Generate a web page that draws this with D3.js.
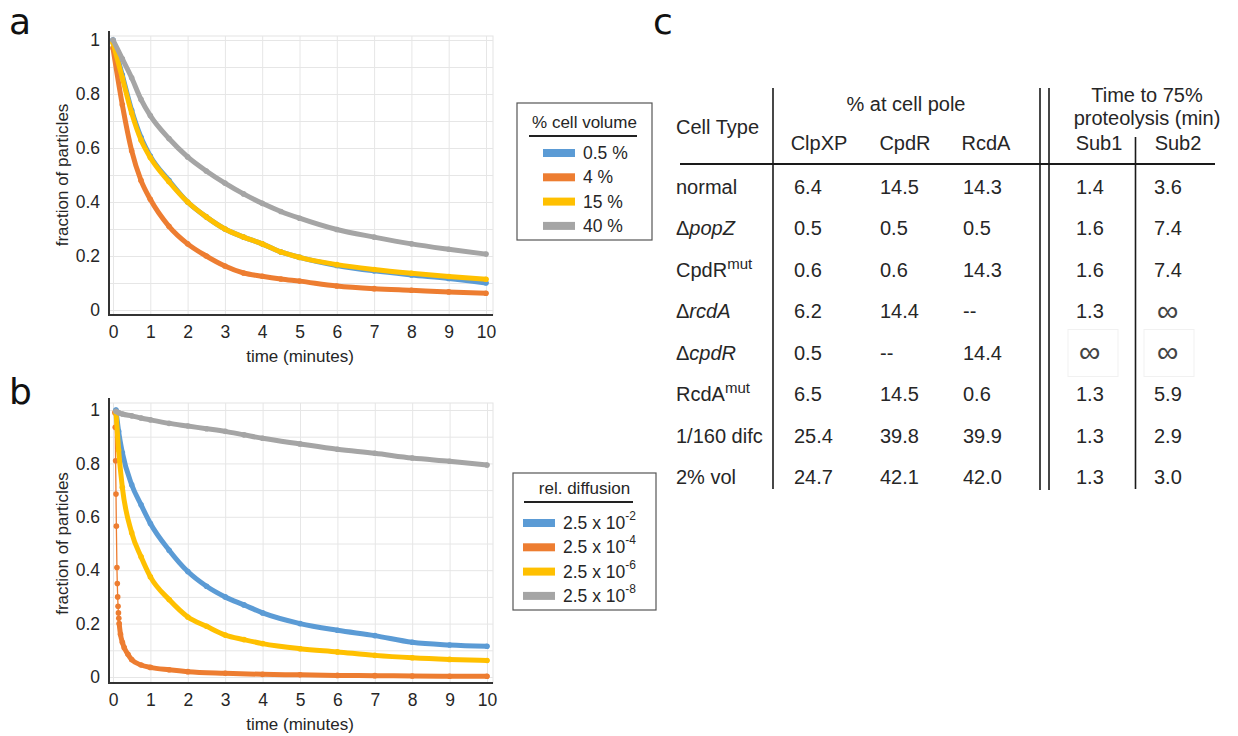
<!DOCTYPE html>
<html>
<head>
<meta charset="utf-8">
<script src="https://cdn.jsdelivr.net/npm/d3@7"></script>
<style>
  body { margin: 0; background: #fff; }
  svg { display: block; font-family: "Liberation Sans", Arial, sans-serif; }
</style>
</head>
<body>
<div class="root"></div>
<script>
const width = 1238;
const height = 736;

// panel a - fraction of particles vs time, by % cell volume
const timeA = [0, 0.25, 0.5, 0.75, 1, 1.5, 2, 2.5, 3, 3.5, 4, 4.5, 5, 6, 7, 8, 9, 10];
const blueA = [1.0, 0.87, 0.74, 0.64, 0.57, 0.48, 0.4, 0.345, 0.3, 0.27, 0.245, 0.215, 0.195, 0.165, 0.145, 0.13, 0.117, 0.1];
const orangeA = [0.97, 0.76, 0.59, 0.48, 0.41, 0.31, 0.245, 0.2, 0.163, 0.137, 0.125, 0.115, 0.107, 0.089, 0.079, 0.073, 0.067, 0.062];
const yellowA = [0.99, 0.86, 0.73, 0.63, 0.565, 0.475, 0.4, 0.345, 0.3, 0.27, 0.245, 0.215, 0.195, 0.168, 0.15, 0.136, 0.124, 0.114];
const grayA = [1.0, 0.93, 0.86, 0.78, 0.72, 0.635, 0.567, 0.515, 0.47, 0.43, 0.395, 0.365, 0.34, 0.298, 0.27, 0.245, 0.225, 0.207];
const volumeLabels = ["0.5 %", "4 %", "15 %", "40 %"];

// panel b - fraction of particles vs time, by relative diffusion
const timeB = [0.08, 0.15, 0.25, 0.5, 0.75, 1, 1.5, 2, 2.5, 3, 3.5, 4, 5, 6, 7, 8, 9, 10];
const blueB = [1.0, 0.92, 0.84, 0.72, 0.645, 0.575, 0.475, 0.395, 0.34, 0.3, 0.27, 0.24, 0.2, 0.175, 0.155, 0.13, 0.12, 0.115];
const yellowB = [0.99, 0.85, 0.71, 0.54, 0.45, 0.375, 0.29, 0.225, 0.19, 0.157, 0.14, 0.125, 0.106, 0.094, 0.081, 0.072, 0.066, 0.062];
const grayB = [0.995, 0.99, 0.985, 0.978, 0.97, 0.963, 0.95, 0.94, 0.93, 0.92, 0.907, 0.894, 0.873, 0.853, 0.838, 0.82, 0.808, 0.794];
const timeBOrange = [0.05, 0.06, 0.07, 0.08, 0.09, 0.105, 0.115, 0.125, 0.135, 0.145, 0.155, 0.165, 0.2, 0.25, 0.3, 0.4, 0.5, 0.75, 1, 1.5, 2, 3, 4, 5, 6, 7, 8, 9, 10];
const orangeB = [0.99, 0.935, 0.81, 0.685, 0.565, 0.41, 0.35, 0.3, 0.265, 0.24, 0.22, 0.2, 0.16, 0.13, 0.11, 0.085, 0.065, 0.045, 0.036, 0.027, 0.02, 0.014, 0.01, 0.008, 0.006, 0.005, 0.004, 0.003, 0.003];
const diffusionBase = "2.5 x 10";
const diffusionExp = ["-2", "-4", "-6", "-8"];

const yTicks = [0, 0.2, 0.4, 0.6, 0.8, 1];
const colors = ["#5b9bd5", "#ed7d31", "#ffc000", "#a5a5a5"];

// panel c - table
const cellTypes = ["normal", "\u0394popZ", "CpdR^mut", "\u0394rcdA", "\u0394cpdR", "RcdA^mut", "1/160 difc", "2% vol"];
const poleHeaders = ["ClpXP", "CpdR", "RcdA"];
const timeHeaders = ["Sub1", "Sub2"];
const clpxp = ["6.4", "0.5", "0.6", "6.2", "0.5", "6.5", "25.4", "24.7"];
const cpdr = ["14.5", "0.5", "0.6", "14.4", "--", "14.5", "39.8", "42.1"];
const rcda = ["14.3", "0.5", "14.3", "--", "14.4", "0.6", "39.9", "42.0"];
const sub1 = ["1.4", "1.6", "1.6", "1.3", "\u221e", "1.3", "1.3", "1.3"];
const sub2 = ["3.6", "7.4", "7.4", "\u221e", "\u221e", "5.9", "2.9", "3.0"];

const ink = "#262626";
const letterFont = "'DejaVu Sans', 'Open Sans', sans-serif";

const svg = d3
  .select(".root")
  .append("svg")
  .attr("width", width)
  .attr("height", height);

svg.append("rect").attr("width", width).attr("height", height).attr("fill", "#fff");

function drawSeries(g, x, y, times, values, color, bandFrom) {
  const pts = times.map((t, i) => ({ t: t, v: values[i] }));
  const line = d3
    .line()
    .x((d) => x(d.t))
    .y((d) => y(d.v))
    .curve(d3.curveMonotoneX);
  g.append("path")
    .datum(pts)
    .attr("d", line)
    .attr("fill", "none")
    .attr("stroke", color)
    .attr("stroke-width", 1.3);
  g.append("path")
    .datum(pts.filter((d) => d.t >= bandFrom))
    .attr("d", line)
    .attr("fill", "none")
    .attr("stroke", color)
    .attr("stroke-width", 5)
    .attr("stroke-linecap", "round")
    .attr("stroke-linejoin", "round");
  g.selectAll(null)
    .data(pts)
    .join("circle")
    .attr("cx", (d) => x(d.t))
    .attr("cy", (d) => y(d.v))
    .attr("r", 2.8)
    .attr("fill", color);
}

function drawPanel(opts) {
  const g = svg.append("g");
  const x = d3.scaleLinear().domain([0, 10]).range(opts.xRange);
  const y = d3.scaleLinear().domain([0, 1]).range(opts.yRange);
  const axisX = 109;
  const right = 493;

  // frame + grid
  g.append("rect")
    .attr("x", axisX)
    .attr("y", opts.frameTop)
    .attr("width", right - axisX)
    .attr("height", opts.axisY - opts.frameTop)
    .attr("fill", "none")
    .attr("stroke", "#e3e3e3");

  g.append("g")
    .attr("transform", `translate(0,${opts.axisY})`)
    .call(d3.axisBottom(x).ticks(10).tickSize(-(opts.axisY - opts.frameTop)).tickFormat(""))
    .call((s) => s.select(".domain").remove())
    .call((s) => s.selectAll("line").attr("stroke", "#e6e6e6"));

  g.append("g")
    .attr("transform", `translate(${axisX},0)`)
    .call(d3.axisLeft(y).ticks(10).tickSize(-(right - axisX)).tickFormat(""))
    .call((s) => s.select(".domain").remove())
    .call((s) => s.selectAll("line").attr("stroke", "#e6e6e6"));

  // series
  const order = [1, 0, 2, 3];
  order.forEach((i) => {
    const s = opts.series[i];
    drawSeries(g, x, y, s.t, s.v, colors[i], s.bandFrom || 0);
  });

  // axis lines
  g.append("line")
    .attr("x1", axisX).attr("x2", axisX)
    .attr("y1", opts.frameTop - 5).attr("y2", opts.axisY + 1)
    .attr("stroke", "#333").attr("stroke-width", 2);
  g.append("line")
    .attr("x1", axisX - 1).attr("x2", right)
    .attr("y1", opts.axisY).attr("y2", opts.axisY)
    .attr("stroke", "#333").attr("stroke-width", 2);

  // tick labels
  g.append("g")
    .attr("transform", `translate(${axisX},0)`)
    .call(d3.axisLeft(y).tickValues(yTicks).tickFormat(d3.format("~g")).tickSize(0).tickPadding(9))
    .call((s) => s.select(".domain").remove())
    .call((s) => s.selectAll("text").attr("font-size", 17.5).attr("fill", ink).attr("font-family", null));

  g.append("g")
    .attr("transform", `translate(0,${opts.axisY})`)
    .call(d3.axisBottom(x).ticks(10).tickSize(0).tickPadding(11))
    .call((s) => s.select(".domain").remove())
    .call((s) => s.selectAll("text").attr("font-size", 17.5).attr("fill", ink).attr("font-family", null));

  g.append("text")
    .attr("x", 300)
    .attr("y", opts.axisY + 47)
    .attr("text-anchor", "middle")
    .attr("font-size", 17)
    .attr("fill", ink)
    .text("time (minutes)");

  g.append("text")
    .attr("transform", `translate(68,${(opts.yRange[0] + opts.yRange[1]) / 2}) rotate(-90)`)
    .attr("text-anchor", "middle")
    .attr("font-size", 17)
    .attr("fill", ink)
    .text("fraction of particles");

  g.append("text")
    .attr("x", 9)
    .attr("y", opts.letterY)
    .attr("font-family", letterFont)
    .attr("font-size", 36)
    .attr("fill", "#111")
    .text(opts.letter);

  // legend
  const lg = g.append("g");
  const L = opts.legend;
  lg.append("rect")
    .attr("x", L.x).attr("y", L.y)
    .attr("width", L.w).attr("height", L.h)
    .attr("fill", "#fff")
    .attr("stroke", "#555")
    .attr("stroke-width", 1.2);
  lg.append("text")
    .attr("x", L.x + L.w / 2)
    .attr("y", L.titleY)
    .attr("text-anchor", "middle")
    .attr("font-size", 17)
    .attr("fill", ink)
    .text(L.title);
  lg.append("line")
    .attr("x1", L.lineX[0]).attr("x2", L.lineX[1])
    .attr("y1", L.titleY + 8).attr("y2", L.titleY + 8)
    .attr("stroke", "#222").attr("stroke-width", 2);
  L.labels.forEach((lab, i) => {
    const cy = L.rowY + i * 24.3;
    lg.append("rect")
      .attr("x", L.swatchX).attr("y", cy - 4)
      .attr("width", 32).attr("height", 8)
      .attr("fill", colors[i]);
    const t = lg.append("text")
      .attr("x", L.swatchX + 40)
      .attr("y", cy + 6)
      .attr("font-size", 17.5)
      .attr("fill", ink)
      .text(lab);
    if (L.exps) {
      t.append("tspan").attr("dy", -9).attr("font-size", 12).text(L.exps[i]);
    }
  });
}

drawPanel({
  letter: "a",
  letterY: 34,
  xRange: [113, 486],
  yRange: [310, 40],
  frameTop: 36,
  axisY: 315,
  series: [
    { t: timeA, v: blueA },
    { t: timeA, v: orangeA },
    { t: timeA, v: yellowA },
    { t: timeA, v: grayA },
  ],
  legend: {
    x: 517, y: 103, w: 135, h: 137,
    title: "% cell volume", titleY: 128, lineX: [529, 637],
    swatchX: 543, rowY: 153, labels: volumeLabels,
  },
});

drawPanel({
  letter: "b",
  letterY: 404,
  xRange: [113, 487],
  yRange: [677, 410],
  frameTop: 403,
  axisY: 683,
  series: [
    { t: timeB, v: blueB },
    { t: timeBOrange, v: orangeB, bandFrom: 0.165 },
    { t: timeB, v: yellowB },
    { t: timeB, v: grayB },
  ],
  legend: {
    x: 513, y: 473, w: 143, h: 137,
    title: "rel. diffusion", titleY: 494, lineX: [524, 633],
    swatchX: 523, rowY: 523,
    labels: diffusionExp.map(() => diffusionBase), exps: diffusionExp,
  },
});

// ---- panel c: table ----
const tg = svg.append("g").attr("fill", ink).attr("font-size", 20);

tg.append("text")
  .attr("x", 653)
  .attr("y", 34)
  .attr("font-family", letterFont)
  .attr("font-size", 36)
  .attr("fill", "#111")
  .text("c");

const rowY = d3.scalePoint().domain(d3.range(cellTypes.length)).range([186.5, 477]);
const colHeaders = poleHeaders.concat(timeHeaders);
const colStart = d3.scaleOrdinal().domain(colHeaders).range([794, 880, 963, 1076, 1154]);
const colCenter = d3.scaleOrdinal().domain(colHeaders).range([819, 905, 986, 1099, 1178]);
const columns = [clpxp, cpdr, rcda, sub1, sub2];

// rules
const rule = (x1, y1, x2, y2, w) =>
  tg.append("line")
    .attr("x1", x1).attr("y1", y1).attr("x2", x2).attr("y2", y2)
    .attr("stroke", "#1a1a1a").attr("stroke-width", w || 1.6);
rule(680, 164, 1215, 164, 1.8);
rule(773, 88, 773, 489);
rule(1040, 88, 1040, 490);
rule(1049, 88, 1049, 490);
rule(1135.5, 137, 1135.5, 489);

// faint boxes around the infinity cells in the ΔcpdR row
[1068, 1144].forEach((bx) => {
  tg.append("rect")
    .attr("x", bx).attr("y", rowY(4) - 23)
    .attr("width", 50).attr("height", 47)
    .attr("fill", "none")
    .attr("stroke", "#f1f1f1");
});

// headers
tg.append("text").attr("x", 906).attr("y", 111).attr("text-anchor", "middle").text("% at cell pole");
tg.append("text").attr("x", 1147).attr("y", 102).attr("text-anchor", "middle").text("Time to 75%");
tg.append("text").attr("x", 1147).attr("y", 125).attr("text-anchor", "middle").text("proteolysis (min)");
tg.append("text").attr("x", 676).attr("y", 134).text("Cell Type");
colHeaders.forEach((h) => {
  tg.append("text")
    .attr("x", colCenter(h))
    .attr("y", 150)
    .attr("text-anchor", "middle")
    .text(h);
});

// row labels
cellTypes.forEach((lab, i) => {
  const t = tg.append("text").attr("x", 676).attr("y", rowY(i)).attr("dy", "0.35em");
  if (lab.startsWith("\u0394")) {
    t.append("tspan").text("\u0394");
    t.append("tspan").attr("font-style", "italic").text(lab.slice(1));
  } else if (lab.includes("^")) {
    const parts = lab.split("^");
    t.append("tspan").text(parts[0]);
    t.append("tspan").attr("dy", -8).attr("font-size", 15).text(parts[1]);
  } else {
    t.text(lab);
  }
});

// values
columns.forEach((col, c) => {
  col.forEach((val, i) => {
    const inf = val === "\u221e";
    tg.append("text")
      .attr("x", colStart(colHeaders[c]) + (inf ? 3 : 0))
      .attr("y", rowY(i))
      .attr("dy", inf ? "0.32em" : "0.35em")
      .attr("font-size", inf ? 30 : null)
      .attr("fill", inf ? "#444" : null)
      .text(val);
  });
});
</script>
</body>
</html>
